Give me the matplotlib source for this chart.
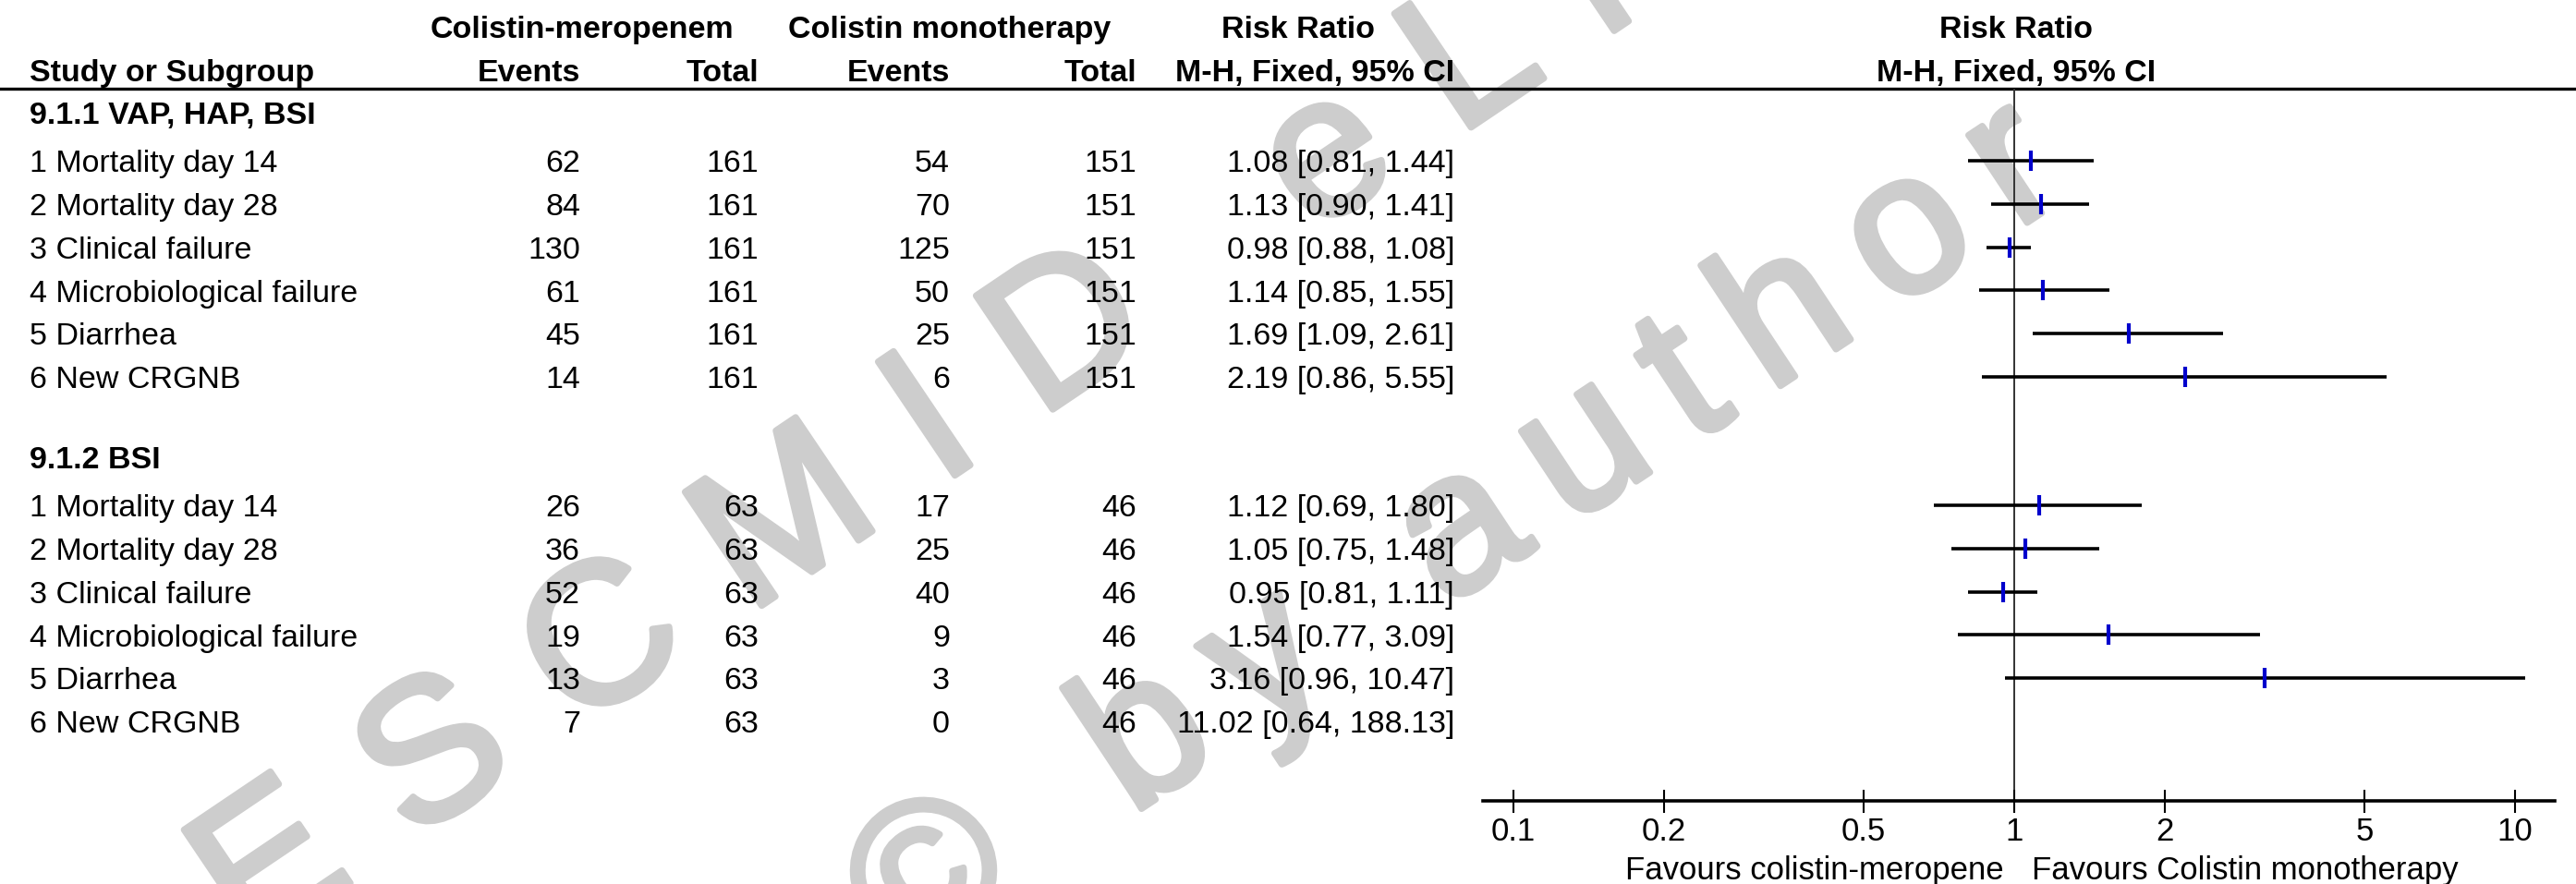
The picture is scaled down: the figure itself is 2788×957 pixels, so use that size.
import numpy as np
import matplotlib
matplotlib.use("Agg")
import matplotlib.pyplot as plt
import matplotlib.patheffects as pe
from matplotlib.ticker import NullLocator

plt.rcParams['font.family'] = ['Liberation Sans', 'DejaVu Sans']

# ---- data ----
outcomes = ["1 Mortality day 14", "2 Mortality day 28", "3 Clinical failure",
            "4 Microbiological failure", "5 Diarrhea", "6 New CRGNB"]

sub1_name = "9.1.1 VAP, HAP, BSI"
sub1_ev_cm = [62, 84, 130, 61, 45, 14]
sub1_tot_cm = [161, 161, 161, 161, 161, 161]
sub1_ev_mono = [54, 70, 125, 50, 25, 6]
sub1_tot_mono = [151, 151, 151, 151, 151, 151]
sub1_rr = [1.08, 1.13, 0.98, 1.14, 1.69, 2.19]
sub1_lo = [0.81, 0.90, 0.88, 0.85, 1.09, 0.86]
sub1_hi = [1.44, 1.41, 1.08, 1.55, 2.61, 5.55]

sub2_name = "9.1.2 BSI"
sub2_ev_cm = [26, 36, 52, 19, 13, 7]
sub2_tot_cm = [63, 63, 63, 63, 63, 63]
sub2_ev_mono = [17, 25, 40, 9, 3, 0]
sub2_tot_mono = [46, 46, 46, 46, 46, 46]
sub2_rr = [1.12, 1.05, 0.95, 1.54, 3.16, 11.02]
sub2_lo = [0.69, 0.75, 0.81, 0.77, 0.96, 0.64]
sub2_hi = [1.80, 1.48, 1.11, 3.09, 10.47, 188.13]

scale_ticks = [0.1, 0.2, 0.5, 1, 2, 5, 10]
scale_labels = ["0.1", "0.2", "0.5", "1", "2", "5", "10"]
left_favours = "Favours colistin-meropene"
right_favours = "Favours Colistin monotherapy"

# ---- layout (pixel units, y down) ----
W, H = 2788, 957
fs = 24.5
base = 0.358 * fs * 100 / 72   # centre -> baseline offset
row_h = 46.8
y_sub1, y_rows1 = 122, 174
y_sub2, y_rows2 = 495, 547
y_rule, y_axis = 96, 867

fig = plt.figure(figsize=(W / 100, H / 100), dpi=100)
tab = fig.add_axes([0, 0, 1, 1])
tab.set_xlim(0, W)
tab.set_ylim(H, 0)
tab.axis('off')

# watermark, letter-spaced along a slanted baseline
adv = {'E': .667, 'S': .667, 'C': .722, 'M': .833, 'I': .278, 'D': .722, ' ': .278,
       'e': .556, 'L': .556, 'i': .222, 'b': .556, 'r': .333, 'a': .556, 'y': .5,
       '©': .737, 'u': .556, 't': .278, 'h': .556, 'o': .556, 'l': .222}
wm_color = '#cdcdcd'


def watermark(s, cx, cy, ang, size, track):
    em = size * 100 / 72
    th = np.radians(ang)
    d = np.array([np.cos(th), -np.sin(th)])
    up = np.array([-np.sin(th), -np.cos(th)])
    p = np.array([cx, cy]) - d * adv[s[0]] * em / 2 - up * 0.358 * em
    for ch in s:
        tab.text(p[0], p[1], ch, fontsize=size, color=wm_color, rotation=ang,
                 rotation_mode='anchor', ha='left', va='baseline', zorder=0,
                 path_effects=[pe.withStroke(linewidth=5, foreground=wm_color)])
        p = p + d * (adv[ch] * em + track)


watermark("ESCMID eLibrary", 284, 927, 34, 155.5, 70)
watermark("© by author", 998, 940, 33.5, 155.5, 40)

# header
hdr = dict(fontsize=fs, fontweight='bold', va='baseline', color='black')
y1, y2 = 29 + base, 76 + base
tab.text(630, y1, "Colistin-meropenem", ha='center', **hdr)
tab.text(1028, y1, "Colistin monotherapy", ha='center', **hdr)
tab.text(1405, y1, "Risk Ratio", ha='center', **hdr)
tab.text(2182, y1, "Risk Ratio", ha='center', **hdr)
tab.text(32, y2, "Study or Subgroup", ha='left', **hdr)
tab.text(628, y2, "Events", ha='right', **hdr)
tab.text(821, y2, "Total", ha='right', **hdr)
tab.text(1028, y2, "Events", ha='right', **hdr)
tab.text(1230, y2, "Total", ha='right', **hdr)
tab.text(1574, y2, "M-H, Fixed, 95% CI", ha='right', **hdr)
tab.text(2182, y2, "M-H, Fixed, 95% CI", ha='center', **hdr)
tab.axhline(y_rule, color='black', lw=2.4, zorder=2)

# forest axes shares the pixel y coordinates of the table
ax = fig.add_axes([1605 / W, (H - y_axis) / H, (2765 - 1605) / W, (y_axis - y_rule) / H])
ax.set_xscale('log')
ax.set_xlim(0.0869, 12.0)
ax.set_ylim(y_axis, y_rule)
ax.patch.set_visible(False)
for sp in ['top', 'left', 'right']:
    ax.spines[sp].set_visible(False)
ax.spines['bottom'].set_linewidth(2.6)
ax.set_yticks([])
ax.set_xticks(scale_ticks)
ax.set_xticklabels(scale_labels)
ax.xaxis.set_minor_locator(NullLocator())
ax.tick_params(axis='x', direction='inout', length=18, width=1.5, labelsize=25, pad=3)
ax.axvline(1, color='#333333', lw=1.4, zorder=1)

txt = dict(fontsize=fs, va='baseline', color='black')


def subgroup(name, ysub, ystart, ev_cm, tot_cm, ev_mo, tot_mo, rr, lo, hi):
    tab.text(32, ysub + base, name, ha='left', fontsize=fs, fontweight='bold', va='baseline')
    for i, lab in enumerate(outcomes):
        y = ystart + i * row_h
        tab.text(32, y + base, lab, ha='left', **txt)
        tab.text(628, y + base, str(ev_cm[i]), ha='right', **txt)
        tab.text(821, y + base, str(tot_cm[i]), ha='right', **txt)
        tab.text(1028, y + base, str(ev_mo[i]), ha='right', **txt)
        tab.text(1230, y + base, str(tot_mo[i]), ha='right', **txt)
        tab.text(1574, y + base, f"{rr[i]:.2f} [{lo[i]:.2f}, {hi[i]:.2f}]", ha='right', **txt)
        if rr[i] <= scale_ticks[-1]:
            x0, x1 = ax.get_xlim()
            ax.plot([max(lo[i], x0), min(hi[i], x1)], [y, y], color='black', lw=2.6,
                    solid_capstyle='butt', zorder=2)
            ax.plot([rr[i]], [y], marker='|', color='#0000cc', markersize=16,
                    markeredgewidth=3, zorder=3)


subgroup(sub1_name, y_sub1, y_rows1, sub1_ev_cm, sub1_tot_cm, sub1_ev_mono, sub1_tot_mono,
         sub1_rr, sub1_lo, sub1_hi)
subgroup(sub2_name, y_sub2, y_rows2, sub2_ev_cm, sub2_tot_cm, sub2_ev_mono, sub2_tot_mono,
         sub2_rr, sub2_lo, sub2_hi)

tab.text(2169, 940 + base, left_favours, ha='right', fontsize=25, va='baseline')
tab.text(2199, 940 + base, right_favours, ha='left', fontsize=25, va='baseline')

fig.savefig("out.png", dpi=100)
